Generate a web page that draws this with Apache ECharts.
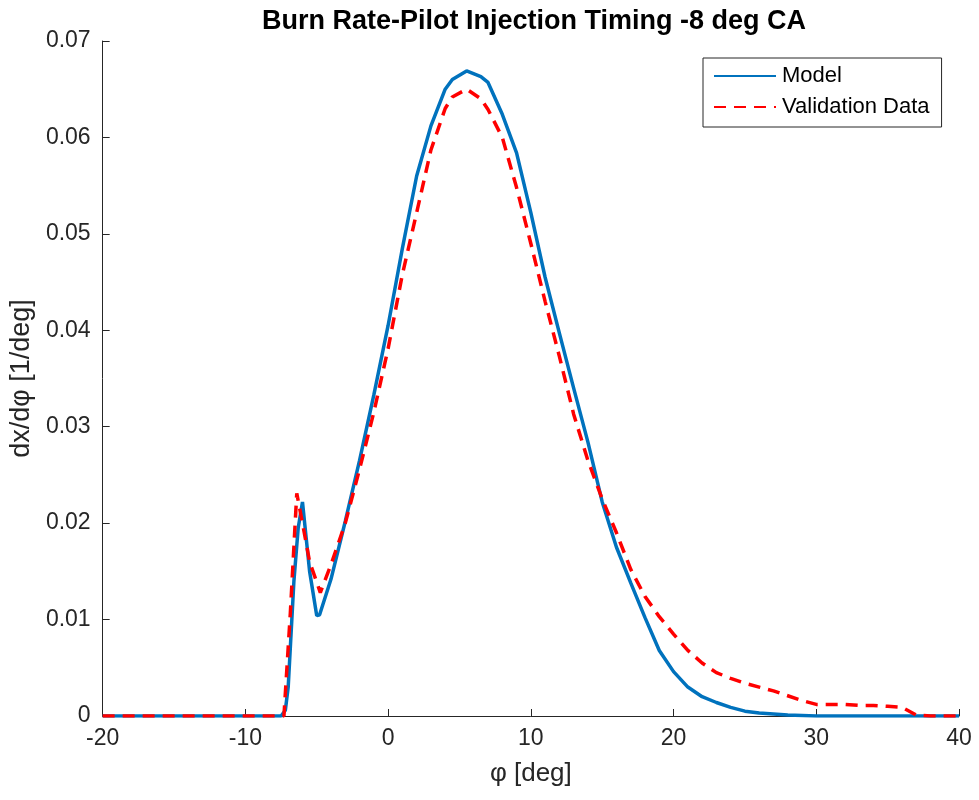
<!DOCTYPE html>
<html>
<head>
<meta charset="utf-8">
<script src="https://cdn.jsdelivr.net/npm/echarts@6/dist/echarts.min.js"></script>
<style>html,body{margin:0;padding:0;background:#fff;}#c{width:979px;height:800px;}</style>
</head>
<body>
<div id="c"></div>
<script>
var modelX = [-20,-15,-10,-8,-7.5,-7.2,-7,-6.6,-6.3,-6,-5.5,-5,-4.8,-4,-3,-2,-1,0,1,2,3,4,4.5,5.5,6.5,7,8,9,10,11,12,13,14,15,16,17,18,19,20,21,22,23,24,25,26,27,28,30,35,40];
var modelY = [0,0,0,0,0,0.0006,0.003,0.014,0.0195,0.0222,0.015,0.0104,0.0105,0.0142,0.0202,0.0265,0.0333,0.0405,0.0485,0.056,0.0612,0.065,0.066,0.0669,0.0663,0.0657,0.0624,0.0584,0.0522,0.0455,0.0397,0.034,0.0284,0.0222,0.0175,0.0138,0.0102,0.0068,0.0046,0.003,0.002,0.0014,0.0009,0.0005,0.0003,0.0002,0.0001,0,0,0];
var valX = [-20,-15,-10,-8,-7.3,-6.85,-6.4,-6,-5.5,-4.75,-4,-3,-2,-1,0,1,2,3,4,4.5,5.5,6.5,7,8,9,10,11,12,13,14,15,16,17,18,19,20,21,22,23,24,25,26,27,28,29,30,31,32,33,34,35,36,37,38,40];
var valY = [0,0,0,0,0,0.0107,0.0231,0.020,0.016,0.0128,0.0157,0.0200,0.0256,0.0315,0.0381,0.0458,0.0522,0.0587,0.0630,0.0642,0.0650,0.0640,0.0629,0.0600,0.0548,0.0490,0.0430,0.0373,0.0313,0.0265,0.0225,0.0190,0.0152,0.0124,0.0103,0.0085,0.0068,0.0055,0.0045,0.0039,0.0034,0.0030,0.0026,0.0021,0.0016,0.0012,0.0012,0.0012,0.0011,0.0011,0.0010,0.0009,0.0001,0,0];
var xTicks = [-20,-10,0,10,20,30,40];
var yTicks = [0,0.01,0.02,0.03,0.04,0.05,0.06,0.07];

function pairs(xs, ys){ return xs.map(function(x,i){ return [x, ys[i]]; }); }

var FONT = 'Liberation Sans, Arial, sans-serif';
var chart = echarts.init(document.getElementById('c'), null, {renderer:'canvas'});
var axisCol = '#262626';
chart.setOption({
  animation:false,
  backgroundColor:'#ffffff',
  title:{
    text:'Burn Rate-Pilot Injection Timing -8 deg CA',
    left:529, top:3, textAlign:'center',
    textStyle:{fontFamily:FONT, fontSize:27, fontWeight:'bold', color:'#000'}
  },
  legend:{
    orient:'vertical', left:703, top:58,
    padding:[7,12,9,10], itemGap:9,
    itemWidth:62, itemHeight:22,
    borderColor:'#262626', borderWidth:1,
    backgroundColor:'#fff',
    itemStyle:{opacity:0},
    textStyle:{fontFamily:FONT, fontSize:22, color:'#000', padding:[0,0,0,1]},
    data:['Model','Validation Data']
  },
  grid:{left:100, right:20, top:41, bottom:84, containLabel:false},
  xAxis:{
    type:'value', min:xTicks[0], max:xTicks[xTicks.length-1], interval:10,
    name:'φ [deg]', nameLocation:'middle', nameGap:45,
    nameTextStyle:{fontFamily:FONT, fontSize:26, color:axisCol},
    axisLine:{show:true, onZero:false, lineStyle:{color:axisCol, width:1}},
    axisTick:{show:true, inside:true, length:7, lineStyle:{color:axisCol}},
    axisLabel:{fontFamily:FONT, fontSize:23, color:axisCol, margin:11},
    splitLine:{show:false}
  },
  yAxis:{
    type:'value', min:yTicks[0], max:yTicks[yTicks.length-1], interval:0.01,
    name:'dx/dφ [1/deg]', nameLocation:'middle', nameGap:64, nameRotate:90,
    nameTextStyle:{fontFamily:FONT, fontSize:27, color:axisCol},
    axisLine:{show:true, onZero:false, lineStyle:{color:axisCol, width:1}},
    axisTick:{show:true, inside:true, length:7, lineStyle:{color:axisCol}},
    axisLabel:{fontFamily:FONT, fontSize:23, color:axisCol, margin:12,
      formatter:function(v){ return v===0 ? '0' : v.toFixed(2); }},
    splitLine:{show:false}
  },
  series:[
    {name:'Model', type:'line', data:pairs(modelX, modelY), symbol:'none', smooth:false,
     lineStyle:{color:'#0072BD', width:3.5}, itemStyle:{color:'#0072BD'}},
    {name:'Validation Data', type:'line', data:pairs(valX, valY), symbol:'none', smooth:false,
     lineStyle:{color:'#FF0000', width:3.5, type:[12,8]}, itemStyle:{color:'#FF0000'}}
  ]
});
</script>
</body>
</html>
